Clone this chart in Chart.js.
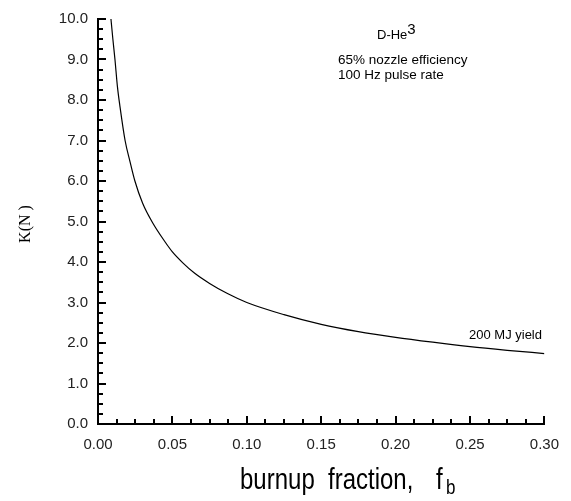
<!DOCTYPE html>
<html>
<head>
<meta charset="utf-8">
<script src="https://cdn.jsdelivr.net/npm/chart.js@4.4.1/dist/chart.umd.min.js"></script>
<style>
  html, body { margin: 0; padding: 0; background: #fff; }
  #wrap { width: 571px; height: 501px; }
</style>
</head>
<body>
<div id="wrap"><canvas id="thrust-chart" width="571" height="501"></canvas></div>
<script>
// burnup fraction (x) and thrust in kN (y)
const burnup = [0.0087, 0.0100, 0.0114, 0.0130, 0.0148, 0.0182, 0.0215, 0.0248, 0.030, 0.037,
                0.045, 0.050, 0.057, 0.065, 0.075, 0.087, 0.100, 0.125, 0.150, 0.175,
                0.200, 0.225, 0.250, 0.275, 0.300];
const thrust = [10.0, 9.5, 9.0, 8.35, 7.83, 7.0, 6.48, 6.0, 5.45, 4.95,
                4.5, 4.25, 3.98, 3.72, 3.47, 3.22, 3.0, 2.70, 2.46, 2.28,
                2.14, 2.02, 1.91, 1.82, 1.74];

const xTicks = [0.00, 0.05, 0.10, 0.15, 0.20, 0.25, 0.30];
const yTicks = [0, 1, 2, 3, 4, 5, 6, 7, 8, 9, 10];

const seriesLabel = '200 MJ yield';
const noteLines = ['65% nozzle efficiency', '100 Hz pulse rate'];

const FONT = '"Liberation Sans", Arial, sans-serif';

// inward ticks (major + minor) and the free text
const decorPlugin = {
  id: 'decor',
  afterDraw(chart) {
    const { ctx, chartArea, scales } = chart;
    const xs = scales.x, ys = scales.y;
    ctx.save();
    ctx.strokeStyle = '#000';
    ctx.lineWidth = 2;

    // y ticks, every 0.25, major every 1
    for (let i = 0; i <= 40; i++) {
      const py = Math.round(ys.getPixelForValue(i * 0.25));
      const len = (i % 4 === 0) ? 8 : 5;
      ctx.beginPath();
      ctx.moveTo(chartArea.left, py);
      ctx.lineTo(chartArea.left + len, py);
      ctx.stroke();
    }
    // x ticks, every 0.0125, major every 0.05
    for (let i = 0; i <= 24; i++) {
      const px = Math.round(xs.getPixelForValue(i * 0.0125));
      const len = (i % 4 === 0) ? 8 : 5;
      ctx.beginPath();
      ctx.moveTo(px, chartArea.bottom);
      ctx.lineTo(px, chartArea.bottom - len);
      ctx.stroke();
    }

    ctx.fillStyle = '#000';
    ctx.textBaseline = 'alphabetic';

    // y title
    ctx.save();
    ctx.translate(30, 224);
    ctx.rotate(-Math.PI / 2);
    ctx.textAlign = 'center';
    ctx.font = '16px "Liberation Serif", "Times New Roman", serif';
    ctx.fillText('K(N )', 0, 0);
    ctx.restore();

    // x title with subscript, glyphs a bit taller than wide like the original
    ctx.save();
    ctx.translate(0, 489);
    ctx.scale(1, 1.2);
    ctx.textAlign = 'left';
    ctx.font = '24px ' + FONT;
    ctx.fillText('burnup', 240, 0);
    ctx.fillText('fraction,', 328, 0);
    ctx.fillText('f', 436, 0);
    ctx.font = '17px ' + FONT;
    ctx.fillText('b', 446, 4);
    ctx.restore();

    // D-He3 label
    ctx.textAlign = 'left';
    ctx.font = '13px ' + FONT;
    ctx.fillText('D-He', 377, 39);
    const w2 = ctx.measureText('D-He').width;
    ctx.font = '15px ' + FONT;
    ctx.fillText('3', 377 + w2, 34);

    ctx.font = '13.5px ' + FONT;
    ctx.fillText(noteLines[0], 338, 64);
    ctx.fillText(noteLines[1], 338, 79);

    // series label
    ctx.font = '13px ' + FONT;
    ctx.fillText(seriesLabel, 469, 339);
    ctx.restore();
  }
};

new Chart(document.getElementById('thrust-chart'), {
  type: 'line',
  data: {
    datasets: [{
      label: seriesLabel,
      data: burnup.map((x, i) => ({ x: x, y: thrust[i] })),
      borderColor: '#000',
      borderWidth: 1.2,
      pointRadius: 0,
      cubicInterpolationMode: 'monotone',
      fill: false
    }]
  },
  options: {
    responsive: false,
    animation: false,
    layout: { padding: { left: 0, right: 26, top: 11, bottom: 0 } },
    plugins: {
      legend: { display: false },
      tooltip: { enabled: false },
      title: { display: false }
    },
    scales: {
      x: {
        type: 'linear',
        min: 0,
        max: 0.30,
        afterFit: (scale) => { scale.height = 77; },
        afterBuildTicks: (scale) => { scale.ticks = xTicks.map(v => ({ value: v })); },
        grid: { display: false, drawTicks: false },
        border: { display: true, color: '#000', width: 2 },
        ticks: {
          padding: 12,
          color: '#222',
          font: { family: FONT, size: 15 },
          callback: (v) => Number(v).toFixed(2)
        }
      },
      y: {
        type: 'linear',
        min: 0,
        max: 10,
        afterFit: (scale) => { scale.width = 98; },
        afterBuildTicks: (scale) => { scale.ticks = yTicks.map(v => ({ value: v })); },
        grid: { display: false, drawTicks: false },
        border: { display: true, color: '#000', width: 2 },
        ticks: {
          padding: 10,
          color: '#222',
          font: { family: FONT, size: 15 },
          callback: (v) => Number(v).toFixed(1)
        }
      }
    }
  },
  plugins: [decorPlugin]
});
</script>
</body>
</html>
